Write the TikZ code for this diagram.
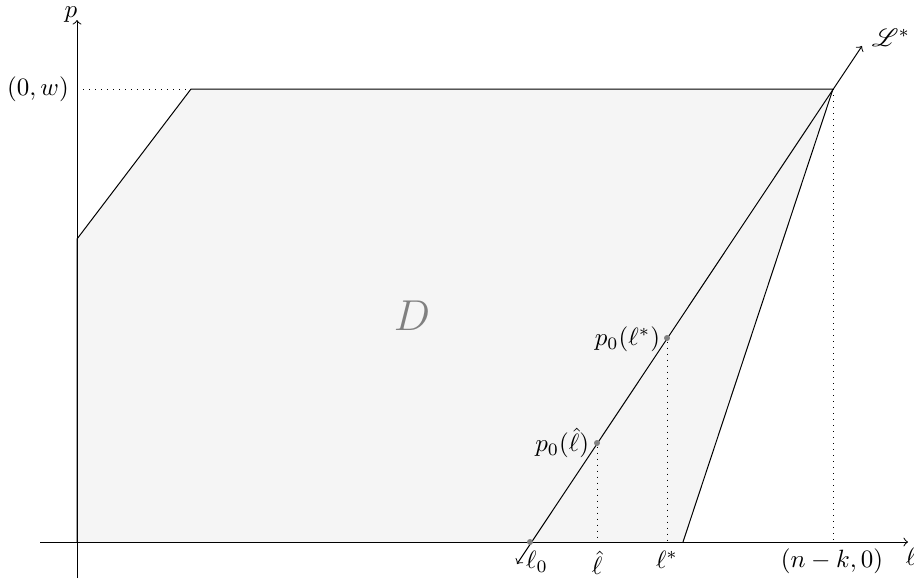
\documentclass[tikz,border=0pt]{standalone}
\usepackage{mathrsfs}
\begin{document}
\begin{tikzpicture}[x=0.4pt,y=-0.4pt,
  dotpt/.style={circle,fill=gray,inner sep=0pt,minimum size=2.4pt},
  guide/.style={dotted},
  lbl/.style={inner sep=1pt}]
\useasboundingbox (0,0) rectangle (914,583);
% region D
\coordinate (O) at (77,542);
\coordinate (A) at (77,239);
\coordinate (B) at (191,89);
\coordinate (C) at (833,89);
\coordinate (E) at (683,542);
\fill[gray!8] (O) -- (A) -- (B) -- (C) -- (E) -- cycle;
\draw (O) -- (A) -- (B) -- (C) -- (E);
% axes
\coordinate (xs) at (40,542);
\coordinate (xe) at (908,542);
\coordinate (ys) at (77,578);
\coordinate (ye) at (77,20);
\draw[->] (xs) -- (xe);
\draw[->] (ys) -- (ye);
% guides
\coordinate (W) at (77,89);
\coordinate (C0) at (833,542);
\draw[guide] (W) -- (B);
\draw[guide] (C) -- (C0);
% line L*
\coordinate (Lb) at (517,564);
\coordinate (Lt) at (862,46);
\draw[<->] (Lb) -- (Lt);
\node[dotpt] (l0) at (530,542) {};
\node[dotpt] (ph) at (597,443) {};
\node[dotpt] (ps) at (667,338) {};
\coordinate (phb) at (597,542);
\coordinate (psb) at (667,542);
\draw[guide] (ph) -- (phb);
\draw[guide] (ps) -- (psb);
% labels
\node[lbl] (tp) at (71,15) {$p$};
\node[lbl] (tl) at (911,557) {$\ell$};
\node[lbl] (tw) at (38,89) {$(0,w)$};
\node[lbl] (tL) at (891,38) {$\mathscr{L}^*$};
\node[lbl,text=gray] (tD) at (412,316) {\LARGE $D$};
\node[lbl] (t0) at (537,562) {$\ell_0$};
\node[lbl] (th) at (597,563) {$\hat\ell$};
\node[lbl] (ts) at (667,560) {$\ell^*$};
\node[lbl] (tn) at (832,561) {$(n-k,0)$};
\node[lbl,anchor=east] (tph) at (592,443) {$p_0(\hat\ell)$};
\node[lbl,anchor=east] (tps) at (663,339) {$p_0(\ell^*)$};
\end{tikzpicture}
\end{document}
